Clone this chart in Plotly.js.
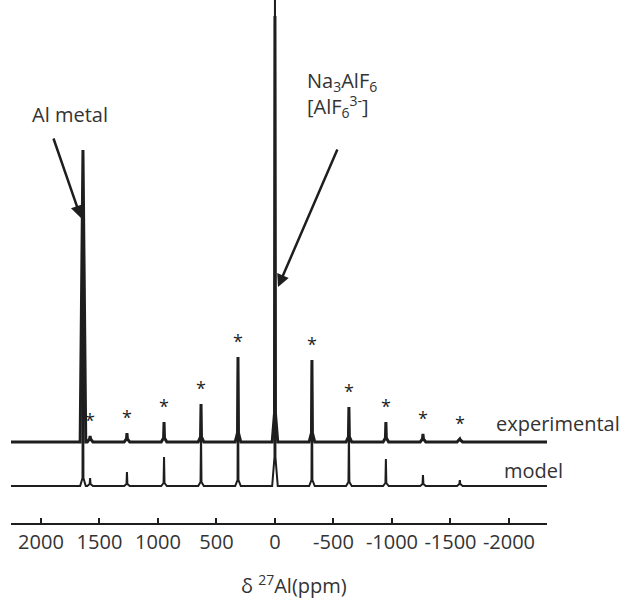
<!DOCTYPE html>
<html><head><meta charset="utf-8">
<script src="https://cdn.plot.ly/plotly-3.0.1.min.js"></script>
<style>html,body{margin:0;padding:0;background:#fff}</style>
</head><body>
<div id="chart" style="width:625px;height:602px"></div>
<script>
// ---- data ----
const peakPositions = [1641, 1580, 1265, 948, 632, 316, 0, -316, -632, -948, -1265, -1580]; // ppm
const experimentalHeights   = [292, 6, 9, 20, 38, 85, 426, 82, 35, 20, 8, 3];
const experimentalShoulders = [244, 3, 3, 4, 5, 9, 29, 9, 5, 4, 3, 2];
const modelHeights   = [240, 8, 14, 29, 55, 120, 500, 120, 55, 27, 11, 6];
const modelShoulders = [8, 2, 2, 3, 4, 6, 29, 6, 4, 3, 2, 2];
const sidebandIndex = [1, 2, 3, 4, 5, 7, 8, 9, 10, 11]; // peaks marked with *
const tickValues = [2000, 1500, 1000, 500, 0, -500, -1000, -1500, -2000];
const tickLabels = ["2000", "1500", "1000", "500", "0", "-500", "-1000", "-1500", "-2000"];

// ---- display settings ----
const xRange = [2256, -2325];
const expOffset = 81, modelOffset = 37;
const shoulderHalf = 24, apexHalf = 4;
const FONT = "Open Sans, DejaVu Sans, sans-serif";
const INK = "#1e1e1e";
const TXT = "#333";

function buildSpectrum(heights, shoulders, offset) {
  const x = [xRange[0]], y = [offset];
  peakPositions.forEach((p, i) => {
    x.push(p + shoulderHalf, p + apexHalf, p, p - apexHalf, p - shoulderHalf);
    y.push(offset, offset + shoulders[i], offset + heights[i], offset + shoulders[i], offset);
  });
  x.push(xRange[1]); y.push(offset);
  return {x, y};
}

const expS = buildSpectrum(experimentalHeights, experimentalShoulders, expOffset);
const modS = buildSpectrum(modelHeights, modelShoulders, modelOffset);

const traces = [
  {x: modS.x, y: modS.y, type: "scatter", mode: "lines", name: "model",
   line: {color: INK, width: 2}, hoverinfo: "skip"},
  {x: expS.x, y: expS.y, type: "scatter", mode: "lines", name: "experimental",
   line: {color: INK, width: 3}, hoverinfo: "skip"}
];

const annotations = [];
sidebandIndex.forEach(i => {
  annotations.push({x: peakPositions[i], y: expOffset + experimentalHeights[i] + 20,
    xref: "x", yref: "y", text: "*", showarrow: false,
    font: {family: FONT, size: 18, color: INK}, yshift: -4});
});
annotations.push(
  {x: 1752, y: 409, xref: "x", yref: "y", text: "Al metal", showarrow: false,
   font: {family: FONT, size: 20, color: TXT}},
  {x: -256, y: 429, xref: "x", yref: "y",
   text: "Na<sub>3</sub>AlF<sub>6</sub><br>[AlF<sub>6</sub><sup>3-</sup>]", showarrow: false,
   xanchor: "left", align: "left", font: {family: FONT, size: 20, color: TXT}},
  {x: -1876, y: 100, xref: "x", yref: "y", text: "experimental", showarrow: false,
   xanchor: "left", font: {family: FONT, size: 20, color: TXT}},
  {x: -1944, y: 53, xref: "x", yref: "y", text: "model", showarrow: false,
   xanchor: "left", font: {family: FONT, size: 20, color: TXT}},
  {x: 1658, y: 305, xref: "x", yref: "y", ax: -28, ay: -81, text: "", showarrow: true,
   arrowhead: 2, arrowsize: 1, arrowwidth: 2.5, arrowcolor: INK},
  {x: -26, y: 236, xref: "x", yref: "y", ax: 60, ay: -139, text: "", showarrow: true,
   arrowhead: 2, arrowsize: 1, arrowwidth: 2.5, arrowcolor: INK},
  {x: 0.528, y: -0.149, xref: "paper", yref: "paper", text: "δ <sup>27</sup>Al(ppm)",
   showarrow: false, font: {family: FONT, size: 20, color: TXT}}
);

const layout = {
  width: 625, height: 602,
  margin: {l: 11, r: 78, t: 0, b: 79},
  paper_bgcolor: "#fff", plot_bgcolor: "#fff",
  showlegend: false,
  xaxis: {range: xRange, showgrid: false, zeroline: false, showline: true,
    linecolor: INK, linewidth: 2, ticks: "inside", ticklen: 5, tickwidth: 2, tickcolor: INK,
    tickvals: tickValues, ticktext: tickLabels,
    tickfont: {family: FONT, size: 20, color: TXT}},
  yaxis: {range: [0, 523], visible: false, showgrid: false, zeroline: false},
  annotations: annotations
};

Plotly.newPlot("chart", traces, layout, {displayModeBar: false, staticPlot: true});
</script>
</body></html>
